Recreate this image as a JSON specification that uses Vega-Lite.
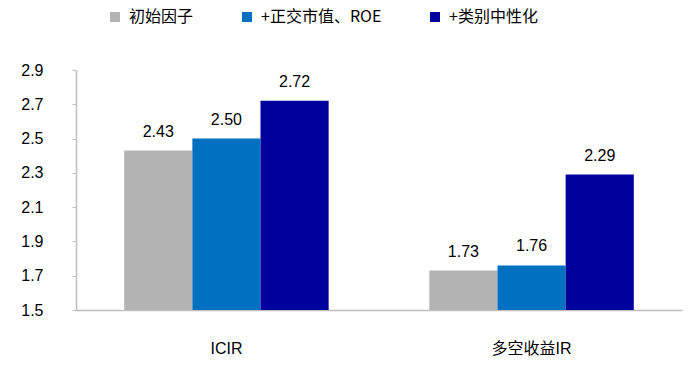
{
  "$schema": "https://vega.github.io/schema/vega-lite/v6.json",
  "width": 606,
  "height": 240,
  "autosize": {"type": "none"},
  "padding": {"left": 76, "top": 70, "right": 11, "bottom": 56},
  "background": "white",
  "config": {
    "view": {"stroke": null},
    "font": "Liberation Sans, Noto Sans CJK SC, sans-serif"
  },
  "data": {
    "values": [
      {"cat": "ICIR", "series": "初始因子", "value": 2.43},
      {"cat": "ICIR", "series": "+正交市值、ROE", "value": 2.50},
      {"cat": "ICIR", "series": "+类别中性化", "value": 2.72},
      {"cat": "多空收益IR", "series": "初始因子", "value": 1.73},
      {"cat": "多空收益IR", "series": "+正交市值、ROE", "value": 1.76},
      {"cat": "多空收益IR", "series": "+类别中性化", "value": 2.29}
    ]
  },
  "encoding": {
    "x": {
      "field": "cat", "type": "nominal", "sort": ["ICIR", "多空收益IR"],
      "scale": {"paddingInner": 0.33, "paddingOuter": 0.158},
      "axis": {
        "title": null, "labelAngle": 0, "labelFontSize": 16, "labelColor": "#000",
        "labelPadding": 30, "ticks": false, "domainColor": "#bfbfbf", "domainWidth": 1.5,
        "labelFont": "Liberation Sans, Noto Sans CJK SC"
      }
    },
    "xOffset": {"field": "series", "type": "nominal", "sort": ["初始因子", "+正交市值、ROE", "+类别中性化"], "scale": {"paddingInner": 0, "paddingOuter": 0}},
    "y": {
      "field": "value", "type": "quantitative",
      "scale": {"domain": [1.5, 2.9], "zero": false, "nice": false},
      "axis": {
        "title": null, "values": [1.5, 1.7, 1.9, 2.1, 2.3, 2.5, 2.7, 2.9], "format": ".1f",
        "grid": false, "labelFontSize": 16, "labelColor": "#000", "labelPadding": 29,
        "tickSize": 4, "tickColor": "#bfbfbf", "domainColor": "#bfbfbf", "domainWidth": 1.5
      }
    }
  },
  "layer": [
    {
      "mark": {"type": "bar"},
      "encoding": {
        "y2": {"datum": 1.5},
        "color": {
          "field": "series", "type": "nominal",
          "sort": ["初始因子", "+正交市值、ROE", "+类别中性化"],
          "scale": {"domain": ["初始因子", "+正交市值、ROE", "+类别中性化"], "range": ["#b3b3b3", "#0070c0", "#00009c"]},
          "legend": {
            "title": null, "orient": "none", "direction": "horizontal",
            "legendX": 31, "legendY": -61, "symbolType": "square", "symbolSize": 100,
            "symbolStrokeWidth": 0, "labelFontSize": 16, "labelColor": "#000",
            "labelOffset": 6, "columnPadding": 45, "labelFont": "Noto Sans CJK SC, Liberation Sans"
          }
        }
      }
    },
    {
      "mark": {"type": "text", "baseline": "bottom", "dy": -11, "fontSize": 16, "color": "#000"},
      "encoding": {
        "text": {"field": "value", "type": "quantitative", "format": ".2f"}
      }
    }
  ]
}
